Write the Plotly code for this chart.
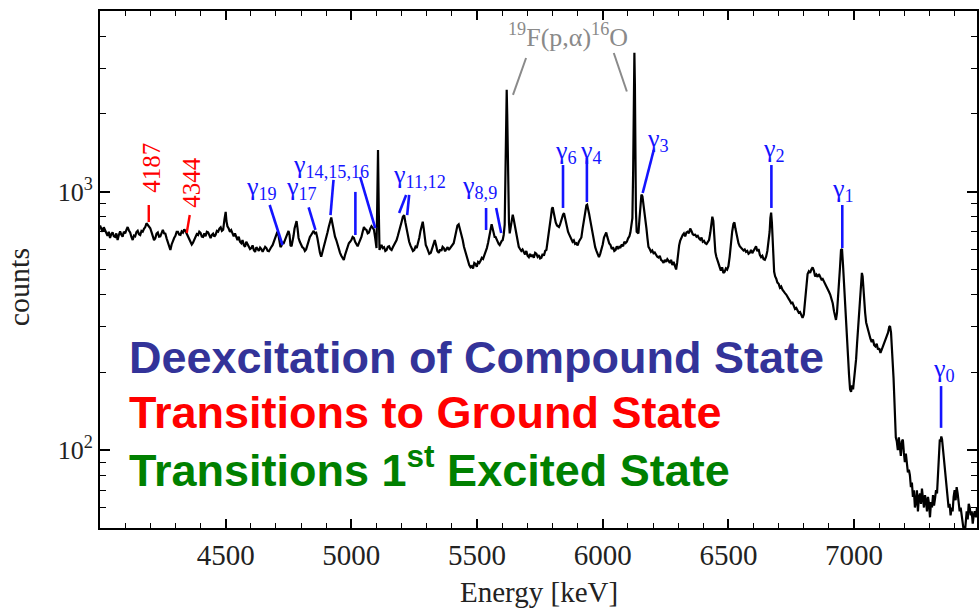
import math
import plotly.graph_objects as go

# ---------------- data ----------------
energy_keV = [
4000,4005,4010,4015,4020,4025,4030,4035,4040,4045,4050,4055,4060,4065,4070,4075,4080,4085,4090,4095,
4100,4105,4110,4115,4120,4125,4130,4135,4140,4145,4150,4155,4160,4165,4170,4175,4180,4185,4190,4195,
4200,4205,4210,4215,4220,4225,4230,4235,4240,4245,4250,4255,4260,4265,4270,4275,4280,4285,4290,4295,
4300,4305,4310,4315,4320,4325,4330,4335,4340,4345,4350,4355,4360,4365,4370,4375,4380,4385,4390,4395,
4400,4405,4410,4415,4420,4425,4430,4435,4440,4445,4450,4455,4460,4465,4470,4475,4480,4485,4490,4495,
4500,4503,4507,4512,4517,4522,4527,4532,4537,4542,4547,4552,4557,4562,4567,4572,4577,4582,4587,4592,
4597,4602,4607,4612,4617,4622,4627,4632,4637,4642,4647,4652,4657,4662,4667,4672,4677,4682,4687,4692,
4697,4702,4706,4710,4714,4718,4722,4726,4730,4734,4738,4742,4746,4750,4754,4758,4762,4766,4770,4774,
4778,4782,4786,4790,4795,4800,4805,4810,4815,4820,4825,4830,4835,4840,4845,4850,4855,4860,4865,4870,
4875,4880,4885,4890,4895,4900,4905,4910,4915,4920,4925,4930,4935,4940,4945,4950,4955,4960,4965,4970,
4975,4980,4985,4990,4995,5000,5005,5010,5015,5020,5025,5030,5035,5040,5045,5050,5055,5060,5065,5070,
5075,5080,5085,5090,5095,5100,5103,5106,5109,5112,5116,5120,5125,5130,5135,5140,5145,5150,5155,5160,
5165,5170,5175,5180,5185,5190,5195,5200,5205,5210,5215,5220,5225,5230,5235,5240,5245,5250,5255,5260,
5265,5270,5275,5280,5284,5288,5292,5296,5300,5305,5310,5316,5322,5327,5332,5337,5342,5348,5353,5358,
5363,5368,5373,5378,5383,5388,5393,5398,5403,5407,5412,5417,5422,5427,5432,5437,5443,5448,5453,5459,
5464,5469,5474,5479,5484,5489,5494,5499,5504,5509,5514,5519,5524,5529,5534,5539,5544,5549,5554,5558,
5562,5566,5570,5574,5578,5582,5586,5590,5594,5598,5602,5606,5610,5613,5616,5618,5620,5622,5624,5627,
5630,5634,5638,5642,5646,5650,5654,5658,5662,5666,5671,5676,5681,5686,5691,5696,5701,5706,5711,5716,
5721,5726,5731,5736,5741,5746,5751,5756,5761,5766,5771,5776,5781,5786,5790,5794,5798,5801,5804,5808,
5813,5818,5822,5826,5830,5834,5838,5842,5846,5850,5854,5858,5862,5866,5870,5875,5880,5885,5890,5895,
5900,5905,5910,5915,5920,5925,5930,5935,5938,5942,5946,5950,5955,5960,5965,5970,5975,5980,5985,5990,
5995,6000,6005,6010,6014,6018,6022,6026,6031,6036,6041,6046,6051,6056,6061,6066,6071,6076,6081,6086,
6091,6096,6101,6106,6110,6114,6118,6121,6124,6126,6128,6130,6132,6135,6139,6142,6146,6150,6154,6158,
6162,6166,6170,6174,6178,6182,6187,6192,6197,6202,6207,6212,6217,6222,6227,6232,6237,6242,6247,6252,
6257,6262,6267,6272,6277,6282,6287,6292,6296,6300,6304,6308,6313,6318,6323,6328,6333,6338,6343,6348,
6353,6358,6363,6368,6373,6378,6383,6388,6393,6398,6403,6408,6413,6418,6423,6428,6432,6436,6440,6444,
6448,6452,6456,6460,6465,6470,6475,6480,6485,6490,6495,6500,6505,6510,6515,6520,6524,6528,6532,6536,
6540,6545,6550,6555,6560,6565,6570,6575,6580,6585,6590,6595,6600,6605,6610,6615,6620,6625,6630,6635,
6640,6645,6650,6655,6660,6664,6667,6670,6673,6676,6679,6682,6686,6690,6695,6700,6705,6710,6715,6720,
6725,6730,6735,6740,6745,6750,6755,6760,6765,6770,6775,6780,6785,6790,6795,6800,6805,6810,6815,6820,
6825,6830,6835,6840,6845,6850,6855,6860,6865,6870,6875,6880,6885,6890,6895,6900,6905,6910,6915,6920,
6925,6928,6932,6936,6940,6944,6948,6952,6956,6960,6964,6968,6972,6976,6980,6984,6988,6992,6996,7000,
7004,7008,7012,7016,7020,7024,7028,7031,7034,7037,7040,7044,7048,7052,7056,7060,7065,7070,7075,7080,
7085,7090,7095,7100,7105,7110,7115,7120,7125,7130,7135,7140,7143,7147,7151,7154,7157,7160,7163,7166,
7170,7174,7178,7182,7186,7190,7194,7198,7202,7206,7210,7214,7218,7222,7226,7230,7234,7238,7242,7246,
7250,7254,7258,7262,7266,7270,7274,7278,7282,7286,7290,7294,7298,7302,7306,7310,7314,7318,7322,7326,
7330,7334,7338,7341,7344,7347,7350,7353,7356,7360,7364,7368,7372,7376,7380,7384,7388,7392,7396,7400,
7404,7408,7412,7416,7420,7424,7428,7432,7436,7440,7444,7448,7452,7456,7460,7464,7468,7472,7476,7480,
7485,7489]

counts = [
740,712,700,728,711,690,675,700,662,685,696,672,668,690,650,680,702,682,670,700,
690,712,730,708,695,668,650,676,672,698,706,685,680,705,700,718,730,755,745,735,
722,698,675,650,660,688,695,670,672,700,712,690,688,660,638,610,595,625,650,662,
675,700,700,682,680,702,695,715,705,690,672,655,644,625,635,650,660,685,680,700,
693,670,668,690,672,700,696,678,662,680,688,670,682,705,700,720,728,705,712,780,
835,770,735,720,700,710,685,672,690,662,650,670,640,632,650,622,612,640,625,612,
600,605,620,595,585,610,598,590,608,600,585,595,612,605,590,588,605,612,622,640,
660,690,700,680,640,610,618,640,628,645,655,672,690,705,680,620,615,640,675,720,
760,770,720,662,640,622,610,605,590,598,620,650,668,680,695,705,690,693,660,610,
580,560,582,605,630,662,695,730,770,795,750,700,670,650,620,595,580,565,552,544,
570,595,618,632,640,650,668,662,640,622,615,632,650,668,700,730,715,712,690,695,
720,735,725,712,660,605,900,1450,850,595,610,622,605,610,590,595,612,615,600,595,
610,622,640,650,675,700,735,765,800,812,760,712,670,640,620,605,590,595,612,605,
630,662,705,750,765,720,660,622,610,590,575,580,605,630,650,620,590,580,598,590,
612,605,588,600,610,595,605,615,625,632,665,710,740,748,720,690,650,612,585,558,
540,520,510,515,505,530,525,512,535,530,540,555,550,565,585,605,635,680,725,748,
720,690,668,668,650,640,628,622,635,645,650,680,745,1100,2000,2480,2000,1300,928,760,
690,730,785,815,780,740,710,670,640,612,600,590,598,580,572,590,565,558,575,560,
570,555,580,575,560,568,552,555,575,565,590,595,640,690,730,800,860,870,840,790,
760,740,732,730,745,770,790,815,826,790,750,725,700,685,668,660,640,648,628,632,
620,640,650,665,720,780,840,885,890,860,820,780,730,680,632,610,590,570,558,575,
595,625,665,690,695,670,645,630,622,600,610,590,595,615,600,612,610,625,615,640,
632,640,660,672,695,730,790,1200,2600,3450,2600,1300,850,700,690,690,780,900,975,960,
900,850,798,720,660,612,600,585,592,578,582,570,560,556,565,545,540,530,545,535,
548,540,530,545,520,535,510,500,530,580,620,645,668,680,690,672,695,700,690,720,
705,685,680,682,670,675,660,652,665,640,645,632,628,640,650,695,760,800,770,650,
585,560,540,530,512,495,510,485,490,505,500,515,560,640,700,750,760,720,680,650,
632,615,605,600,592,598,585,590,575,580,595,578,590,600,615,588,600,570,558,565,
548,545,560,590,640,700,790,830,760,620,540,490,470,462,445,440,425,430,418,410,
405,400,390,385,378,370,372,360,352,355,345,340,342,330,325,335,380,440,480,492,
485,500,510,495,470,478,468,480,470,458,460,448,440,425,418,410,400,385,370,345,
330,319,340,380,430,510,595,600,520,430,380,320,260,230,195,172,168,178,172,185,
199,225,260,300,340,380,450,485,470,420,380,340,312,300,290,282,270,262,268,255,
252,258,245,248,238,245,252,262,268,275,285,300,302,285,250,230,190,160,140,112,
108,100,112,103,95,108,110,98,90,97,88,82,84,80,72,75,66,70,60,63,
70,58,66,68,62,71,65,60,67,64,58,66,62,55,63,60,67,61,65,70,
68,80,100,110,108,113,110,102,95,92,80,70,64,60,62,56,60,58,66,70,
64,72,68,62,58,60,55,52,49,47,52,58,54,62,60,56,58,52,56,58,
55,60]

x_range_keV = [4000, 7489]
y_range_counts = [50, 5000]
x_tick_vals = [4500, 5000, 5500, 6000, 6500, 7000]
y_tick_vals = [100, 1000]
y_tick_text = ["10<sup>2</sup>", "10<sup>3</sup>"]
y_minor_vals = [60, 70, 80, 90, 200, 300, 400, 500, 600, 700, 800, 900, 2000, 3000, 4000]

# gamma labels: text, centre energy, centre counts
gamma_text = ["γ<sub>19</sub>", "γ<sub>17</sub>", "γ<sub>14,15,16</sub>", "γ<sub>11,12</sub>",
              "γ<sub>8,9</sub>", "γ<sub>6</sub>", "γ<sub>4</sub>", "γ<sub>3</sub>",
              "γ<sub>2</sub>", "γ<sub>1</sub>", "γ<sub>0</sub>"]
gamma_E = [4643, 4802, 4917, 5270, 5508, 5853, 5952, 6218, 6682, 6956, 7357]
gamma_c = [1033, 1033, 1257, 1150, 1043, 1425, 1425, 1585, 1450, 1015, 204]

# marker segments (E0, c0) -> (E1, c1)
gamma_seg_E0 = [4675, 4830, 4929, 5016, 5035, 5218, 5230, 5536, 5576, 5842, 5937, 6203, 6671, 6953, 7346]
gamma_seg_c0 = [888, 870, 1110, 998, 1140, 971, 971, 865, 865, 1268, 1350, 1450, 1268, 888, 177]
gamma_seg_E1 = [4726, 4857, 4917, 5016, 5095, 5190, 5222, 5536, 5596, 5842, 5937, 6159, 6671, 6953, 7346]
gamma_seg_c1 = [622, 711, 812, 680, 723, 827, 812, 711, 692, 865, 912, 988, 865, 605, 122]

ground_text = ["4187", "4344"]
ground_E = [4206, 4361]
ground_c = [1235, 1090]
ground_seg_E0 = [4194, 4357]
ground_seg_c0 = [888, 812]
ground_seg_E1 = [4194, 4345]
ground_seg_c1 = [763, 692]

fpa_text = "<sup>19</sup>F(p,α)<sup>16</sup>O"
fpa_E, fpa_c = 5863, 4006
fpa_seg_E0 = [5695, 6044]
fpa_seg_c0 = [3290, 3440]
fpa_seg_E1 = [5643, 6096]
fpa_seg_c1 = [2370, 2440]

legend_lines = ["Deexcitation of Compound State",
                "Transitions to Ground State",
                "Transitions 1<sup>st</sup> Excited State"]
legend_colors = ["#333399", "#ff0000", "#008000"]

# ---------------- figure ----------------
SERIF = "Liberation Serif, Times New Roman, serif"
SANS = "Liberation Sans, Arial, sans-serif"
BLUE = "#1414ff"
GREY = "#8a8a8a"

fig = go.Figure()
fig.add_trace(go.Scatter(x=energy_keV, y=counts, mode="lines",
                         line=dict(color="black", width=2.2), hoverinfo="skip",
                         showlegend=False))

shapes = []
def seg(E0, c0, E1, c1, color, width):
    shapes.append(dict(type="line", xref="x", yref="y", x0=E0, y0=c0, x1=E1, y1=c1,
                       line=dict(color=color, width=width)))

for a, b, c, d in zip(gamma_seg_E0, gamma_seg_c0, gamma_seg_E1, gamma_seg_c1):
    seg(a, b, c, d, BLUE, 2.6)
for a, b, c, d in zip(ground_seg_E0, ground_seg_c0, ground_seg_E1, ground_seg_c1):
    seg(a, b, c, d, "#ff0000", 2.4)
for a, b, c, d in zip(fpa_seg_E0, fpa_seg_c0, fpa_seg_E1, fpa_seg_c1):
    seg(a, b, c, d, GREY, 2)

ann = []
for t, E, c in zip(gamma_text, gamma_E, gamma_c):
    ann.append(dict(x=E, y=math.log10(c), xref="x", yref="y", text=t, showarrow=False,
                    xanchor="center", yanchor="middle",
                    font=dict(family=SERIF, size=26, color=BLUE)))
for t, E, c in zip(ground_text, ground_E, ground_c):
    ann.append(dict(x=E, y=math.log10(c), xref="x", yref="y", text=t, showarrow=False,
                    textangle=-90, xanchor="center", yanchor="middle",
                    font=dict(family=SERIF, size=25, color="#ff0000")))
ann.append(dict(x=fpa_E, y=math.log10(fpa_c), xref="x", yref="y", text=fpa_text,
                showarrow=False, xanchor="center", yanchor="middle",
                font=dict(family=SERIF, size=26, color=GREY)))

legend_y = [0.3298, 0.2234, 0.118]
for t, col, yy in zip(legend_lines, legend_colors, legend_y):
    ann.append(dict(x=0.031, y=yy, xref="paper", yref="paper", text="<b>" + t + "</b>",
                    showarrow=False, xanchor="left", yanchor="middle",
                    font=dict(family=SANS, size=45, color=col)))

ann.append(dict(x=0.5006, y=-0.1238, xref="paper", yref="paper", text="Energy [keV]",
                showarrow=False, xanchor="center", yanchor="middle",
                font=dict(family=SERIF, size=29, color="#222222")))
ann.append(dict(x=-0.0933, y=0.466, xref="paper", yref="paper", text="counts",
                showarrow=False, textangle=-90, xanchor="center", yanchor="middle",
                font=dict(family=SERIF, size=30, color="#222222")))

fig.update_layout(
    width=979, height=613,
    margin=dict(l=100, r=0, t=11, b=85),
    paper_bgcolor="white", plot_bgcolor="white",
    shapes=shapes, annotations=ann,
    xaxis=dict(range=x_range_keV, tickvals=x_tick_vals, ticks="inside", ticklen=9,
               tickwidth=1.6, tickcolor="black", showline=True, linecolor="black",
               linewidth=2, mirror="ticks", showgrid=False, zeroline=False,
               tickfont=dict(family=SERIF, size=29, color="#222222"),
               minor=dict(dtick=100, tick0=4000, ticks="inside", ticklen=5,
                          tickwidth=1.3, tickcolor="black", showgrid=False)),
    yaxis=dict(type="log", range=[math.log10(v) for v in y_range_counts],
               tickvals=y_tick_vals, ticktext=y_tick_text, ticks="inside", ticklen=10,
               tickwidth=1.6, tickcolor="black", showline=True, linecolor="black",
               linewidth=2, mirror="ticks", showgrid=False, zeroline=False,
               tickfont=dict(family=SERIF, size=26, color="#222222"),
               minor=dict(tickvals=y_minor_vals, ticks="inside", ticklen=6,
                          tickwidth=1.3, tickcolor="black", showgrid=False)),
)

fig.write_html("out.html", config={"displayModeBar": False},
               post_script="document.body.style.margin='0';document.body.style.overflow='hidden';")
